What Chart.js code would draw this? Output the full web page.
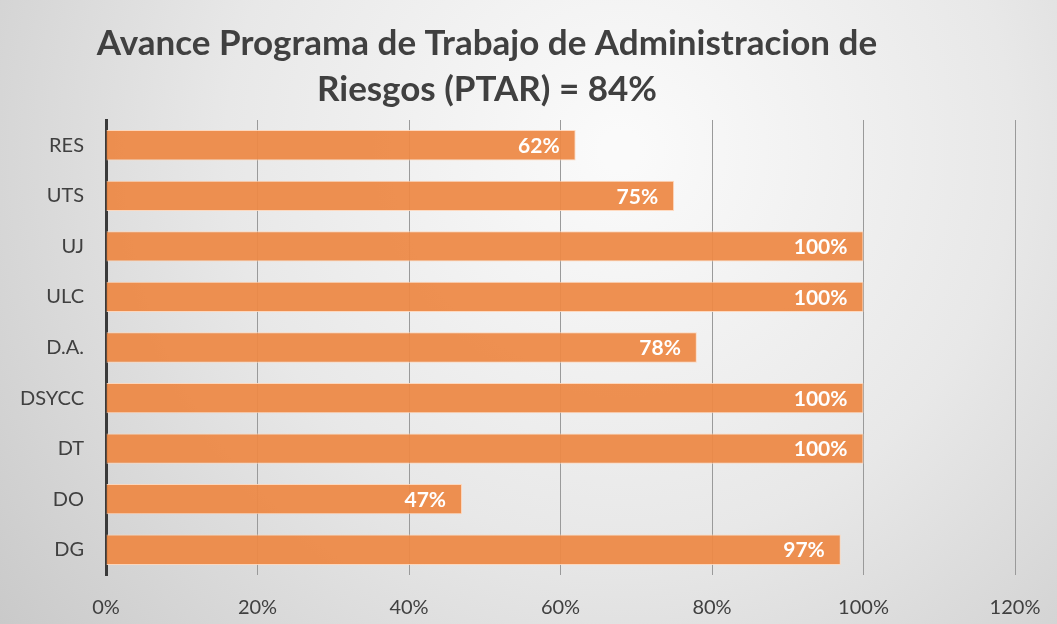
<!DOCTYPE html>
<html>
<head>
<meta charset="utf-8">
<script src="https://cdn.jsdelivr.net/npm/chart.js@4"></script>
<style>
  html, body { margin: 0; padding: 0; }
  #wrap { width: 1057px; height: 624px; }
</style>
</head>
<body>
<div id="wrap"><canvas id="ptarChart" width="1057" height="624"></canvas></div>
<script>
const areas = ['RES', 'UTS', 'UJ', 'ULC', 'D.A.', 'DSYCC', 'DT', 'DO', 'DG'];
const avance = [62, 75, 100, 100, 78, 100, 100, 47, 97];
const titleLines = ['Avance Programa de Trabajo de Administracion de', 'Riesgos (PTAR) = 84%'];
const xTicks = [0, 20, 40, 60, 80, 100, 120];

const fontFamily = 'Lato, "Open Sans", sans-serif';

// fondo degradado tipo Excel
const bgPlugin = {
  id: 'bg',
  beforeDraw(chart) {
    const { ctx, width, height } = chart;
    const g = ctx.createRadialGradient(620, 150, 20, 620, 150, 850);
    g.addColorStop(0, '#fafafa');
    g.addColorStop(0.45, '#e8e8e8');
    g.addColorStop(1, '#c4c4c4');
    ctx.save();
    ctx.fillStyle = g;
    ctx.fillRect(0, 0, width, height);
    ctx.restore();
  }
};

// titulo en dos lineas, centrado como en el original
const titlePlugin = {
  id: 'titulo',
  afterDraw(chart) {
    const { ctx } = chart;
    ctx.save();
    ctx.fillStyle = '#404040';
    ctx.font = 'bold 35px ' + fontFamily;
    ctx.textAlign = 'center';
    ctx.textBaseline = 'middle';
    ctx.fillText(titleLines[0], 487, 44);
    ctx.fillText(titleLines[1], 487, 90);
    ctx.restore();
  }
};

// etiquetas de valor dentro de la barra
const labelPlugin = {
  id: 'valores',
  afterDatasetsDraw(chart) {
    const { ctx } = chart;
    const meta = chart.getDatasetMeta(0);
    ctx.save();
    ctx.fillStyle = '#ffffff';
    ctx.font = 'bold 21px ' + fontFamily;
    ctx.textAlign = 'right';
    ctx.textBaseline = 'middle';
    meta.data.forEach((bar, i) => {
      ctx.fillText(avance[i] + '%', bar.x - 16, bar.y + 1);
    });
    ctx.restore();
  }
};

new Chart(document.getElementById('ptarChart'), {
  type: 'bar',
  data: {
    labels: areas,
    datasets: [{
      data: avance,
      backgroundColor: 'rgba(237, 137, 70, 0.94)',
      borderColor: 'rgba(255, 214, 185, 0.9)',
      borderWidth: 1,
      borderSkipped: 'left',
      barPercentage: 0.6,
      categoryPercentage: 1.0
    }]
  },
  options: {
    indexAxis: 'y',
    responsive: false,
    animation: false,
    layout: { padding: { top: 120, right: 42, left: 0, bottom: 0 } },
    plugins: {
      legend: { display: false },
      title: { display: false },
      tooltip: { enabled: false }
    },
    scales: {
      x: {
        min: 0,
        max: 120,
        afterBuildTicks(scale) {
          scale.ticks = xTicks.map(v => ({ value: v }));
        },
        afterFit(scale) {
          scale.height = 49;
          scale.paddingRight = 0;
          scale.paddingLeft = 0;
        },
        grid: { color: '#9a9a9a', lineWidth: 1, drawTicks: false },
        border: { display: false },
        ticks: {
          padding: 21,
          color: '#404040',
          font: { family: fontFamily, size: 20 },
          callback: v => v + '%'
        }
      },
      y: {
        afterFit(scale) { scale.width = 106; },
        grid: { display: false, drawTicks: false },
        border: { display: true, color: '#3a3a3a', width: 3 },
        ticks: {
          padding: 22,
          color: '#404040',
          font: { family: fontFamily, size: 20 }
        }
      }
    }
  },
  plugins: [bgPlugin, titlePlugin, labelPlugin]
});
</script>
</body>
</html>
